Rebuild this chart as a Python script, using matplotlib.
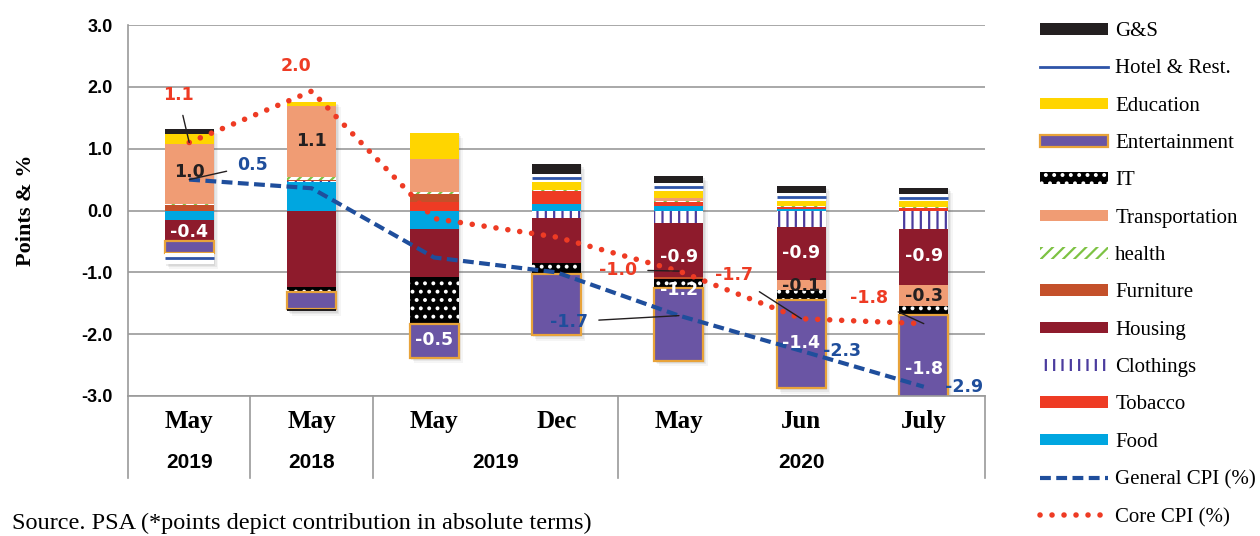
import numpy as np
import matplotlib
matplotlib.use("Agg")
import matplotlib.pyplot as plt
from matplotlib.patches import Patch
from matplotlib.lines import Line2D

plt.rcParams['hatch.linewidth'] = 1.6

# categories
months = ["May", "May", "May", "Dec", "May", "Jun", "July"]
years = ["2019", "2018", "2019", "2020"]
year_pos = [0, 1, 2.5, 5]
year_breaks = [-0.5, 0.5, 1.5, 3.5, 6.5]

# contributions (points), stacking order bottom -> top
food = [-0.16, 0.46, -0.30, 0.11, 0.08, 0.02, 0.0]
tobacco = [0.0, 0.0, 0.13, 0.20, 0.05, 0.04, 0.04]
clothings = [0.0, 0.02, 0.0, -0.12, -0.21, -0.26, -0.30]
housing = [-0.34, -1.24, -0.77, -0.73, -0.87, -0.86, -0.90]
furniture = [0.09, 0.02, 0.14, 0.0, -0.03, 0.0, 0.0]
health = [0.02, 0.04, 0.03, 0.02, 0.03, 0.02, 0.02]
transport = [0.96, 1.15, 0.53, 0.0, 0.05, -0.16, -0.35]
it = [0.0, -0.07, -0.76, -0.17, -0.15, -0.16, -0.14]
entertainment = [-0.19, -0.28, -0.55, -1.0, -1.17, -1.43, -1.80]
education = [0.16, 0.07, 0.43, 0.13, 0.11, 0.07, 0.09]
hotel = [-0.17, 0.0, 0.0, 0.13, 0.12, 0.13, 0.11]
gs = [0.09, -0.03, 0.0, 0.17, 0.12, 0.12, 0.11]

general_cpi = [0.5, 0.36, -0.76, -1.0, -1.7, -2.27, -2.85]
core_cpi = [1.1, 1.93, -0.13, -0.43, -0.98, -1.75, -1.83]

BLUE = "#1F4E9C"
RED = "#EE3B24"
GEN_STYLE = (0, (2.6, 1.3))
CORE_STYLE = (0, (0.01, 2.15))

# name, values, facecolor, edgecolor(hatch), hatch, linewidth
series = [
    ("Food", food, "#00A6E0", "none", None, 0),
    ("Tobacco", tobacco, "#EE3B24", "none", None, 0),
    ("Clothings", clothings, "white", "#4B3C9E", "||", 0),
    ("Housing", housing, "#8E1B2C", "none", None, 0),
    ("Furniture", furniture, "#C4502A", "none", None, 0),
    ("health", health, "white", "#7DC243", "///", 0),
    ("Transportation", transport, "#F09C74", "none", None, 0),
    ("IT", it, "black", "white", "..", 0),
    ("Entertainment", entertainment, "#6A55A4", "#E8A33A", None, 1.6),
    ("Education", education, "#FFD500", "none", None, 0),
    ("Hotel & Rest.", hotel, "white", "none", None, 0),
    ("G&S", gs, "#231F20", "none", None, 0),
]

fig = plt.figure(figsize=(12.6, 5.36), dpi=100)
ax = fig.add_axes([128 / 1260, 1 - 396 / 536, (985 - 128) / 1260, (396 - 25) / 536])

x = np.arange(len(months))
w = 0.4
pos = np.zeros(len(x))
neg = np.zeros(len(x))

# soft shadow behind each stacked column
tot_pos = np.sum([np.clip(s[1], 0, None) for s in series], axis=0)
tot_neg = np.sum([np.clip(s[1], None, 0) for s in series], axis=0)
for k, a in enumerate([0.10, 0.08, 0.06]):
    d = 0.012 * (k + 1)
    ax.bar(x + d, tot_pos - tot_neg, w, bottom=tot_neg - 2.5 * d,
           color="#555555", alpha=a, lw=0, zorder=1)

for name, vals, fc, ec, hatch, lw in series:
    v = np.array(vals)
    bottom = np.where(v >= 0, pos, neg)
    ax.bar(x, v, w, bottom=bottom, facecolor=fc, edgecolor=ec, hatch=hatch,
           linewidth=lw, zorder=2)
    if name == "Hotel & Rest.":
        mask = v != 0
        ax.hlines((bottom + v / 2)[mask], x[mask] - w / 2, x[mask] + w / 2,
                  color="#2E54A8", lw=2, zorder=3)
    pos = pos + np.clip(v, 0, None)
    neg = neg + np.clip(v, None, 0)

ax.plot(x, general_cpi, color=BLUE, lw=3, linestyle=GEN_STYLE, zorder=4)
ax.plot(x, core_cpi, color=RED, lw=4, linestyle=CORE_STYLE,
        dash_capstyle="round", zorder=4)

ax.set_xlim(-0.5, 6.5)
ax.set_ylim(-3, 3)
ax.set_yticks(np.arange(-3, 3.1, 1))
ax.set_yticklabels([f"{t:.1f}" for t in np.arange(-3, 3.1, 1)])
ax.yaxis.grid(True, color="#9A9A9A", lw=1.2)
ax.set_axisbelow(True)
for s in ["top", "right"]:
    ax.spines[s].set_visible(False)
ax.spines["left"].set_color("#9A9A9A")
ax.spines["bottom"].set_color("#9A9A9A")
ax.spines["left"].set_linewidth(1.2)
ax.spines["bottom"].set_linewidth(1.2)
ax.tick_params(axis="y", length=0, pad=11)
ax.tick_params(axis="x", length=0, labelbottom=False)
for lab in ax.get_yticklabels():
    lab.set_fontfamily("Liberation Sans")
    lab.set_fontweight("bold")
    lab.set_fontsize(13)

ax.set_ylabel("Points & %", family="Liberation Serif", fontweight="bold",
              fontsize=16, labelpad=33)

# category table under the axis
xt = ax.get_xaxis_transform()
for b in year_breaks:
    ax.plot([b, b], [0, -0.221], transform=xt, color="#9A9A9A", lw=1.2,
            clip_on=False)
for i, m in enumerate(months):
    ax.text(i, -0.068, m, transform=xt, ha="center", va="center",
            family="Liberation Serif", fontweight="bold", fontsize=18)
for p, yr in zip(year_pos, years):
    ax.text(p, -0.18, yr, transform=xt, ha="center", va="center",
            family="Liberation Sans", fontweight="bold", fontsize=15)

# labels inside bars: (x, y, text, colour)
bar_labels = [
    (0, 0.62, "1.0", "#231F20"),
    (1, 1.13, "1.1", "#231F20"),
    (0, -0.34, "-0.4", "white"),
    (2, -2.09, "-0.5", "white"),
    (4, -0.75, "-0.9", "white"),
    (5, -0.68, "-0.9", "white"),
    (6, -0.73, "-0.9", "white"),
    (4, -1.28, "-1.2", "white"),
    (5, -1.22, "-0.1", "#231F20"),
    (5, -2.15, "-1.4", "white"),
    (6, -1.38, "-0.3", "#231F20"),
    (6, -2.56, "-1.8", "white"),
]
for bx, by, t, c in bar_labels:
    ax.text(bx, by, t, ha="center", va="center", color=c, fontsize=12.5,
            fontweight="bold", zorder=5)

# line labels: (text, colour, text pos, target point or None)
line_labels = [
    ("1.1", RED, (-0.09, 1.86), ("core", 0)),
    ("2.0", RED, (0.87, 2.33), None),
    ("0.5", BLUE, (0.52, 0.73), ("gen", 0)),
    ("-1.7", BLUE, (3.1, -1.8), ("gen", 4)),
    ("-1.0", RED, (3.5, -0.96), ("core", 4)),
    ("-1.7", RED, (4.45, -1.05), ("core", 5)),
    ("-2.3", BLUE, (5.33, -2.27), None),
    ("-1.8", RED, (5.55, -1.42), ("core", 6)),
    ("-2.9", BLUE, (6.33, -2.85), None),
]
for t, c, (tx, ty), tgt in line_labels:
    if tgt is None:
        ax.text(tx, ty, t, color=c, fontsize=12.5, fontweight="bold",
                ha="center", va="center", zorder=6)
    else:
        kind, i = tgt
        yv = core_cpi[i] if kind == "core" else general_cpi[i]
        ax.annotate(t, xy=(x[i], yv), xytext=(tx, ty), color=c, fontsize=12.5,
                    fontweight="bold", ha="center", va="center", zorder=6,
                    arrowprops=dict(arrowstyle="-", color="#231F20", lw=1,
                                    shrinkA=6, shrinkB=0))

# legend (top entry first)
handles = [
    Patch(facecolor="#231F20", label="G&S"),
    Line2D([], [], color="#2E54A8", lw=2, label="Hotel & Rest."),
    Patch(facecolor="#FFD500", label="Education"),
    Patch(facecolor="#6A55A4", edgecolor="#E8A33A", lw=1.6, label="Entertainment"),
    Patch(facecolor="black", edgecolor="white", hatch="..", lw=0, label="IT"),
    Patch(facecolor="#F09C74", label="Transportation"),
    Patch(facecolor="white", edgecolor="#7DC243", hatch="///", lw=0, label="health"),
    Patch(facecolor="#C4502A", label="Furniture"),
    Patch(facecolor="#8E1B2C", label="Housing"),
    Patch(facecolor="white", edgecolor="#4B3C9E", hatch="||", lw=0, label="Clothings"),
    Patch(facecolor="#EE3B24", label="Tobacco"),
    Patch(facecolor="#00A6E0", label="Food"),
    Line2D([], [], color=BLUE, lw=3, linestyle=GEN_STYLE, label="General CPI (%)"),
    Line2D([], [], color=RED, lw=4, linestyle=CORE_STYLE,
           dash_capstyle="round", label="Core CPI (%)"),
]
fig.legend(handles=handles, loc="upper left", bbox_to_anchor=(1036 / 1260, 1 - 18 / 536),
           frameon=False, prop={"family": "Liberation Serif", "size": 15},
           handlelength=3.25, handleheight=0.48, labelspacing=0.88,
           handletextpad=0.35, borderaxespad=0.0, borderpad=0.2)

fig.text(12 / 1260, 0.004, "Source. PSA (*points depict contribution in absolute terms)",
         family="Liberation Serif", fontsize=17.5, va="bottom", ha="left")

fig.savefig("out.png", dpi=100)
